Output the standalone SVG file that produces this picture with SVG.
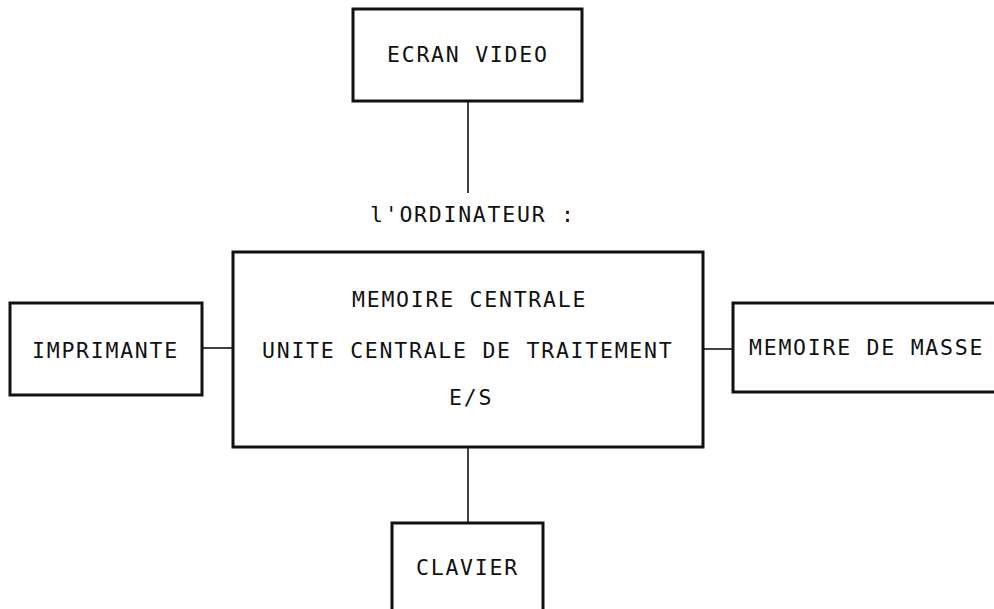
<svg xmlns="http://www.w3.org/2000/svg" width="994" height="609" viewBox="0 0 994 609">
<style>
.box{fill:#fff;stroke:#111;stroke-width:3}
.lbl{font-family:"DejaVu Sans Mono","Liberation Mono",monospace;font-size:21.5px;letter-spacing:1.75px;fill:#111}
.conn{stroke:#111;stroke-width:1.6;fill:none}
</style>
<rect width="994" height="609" fill="#fff"/>
<g id="connectors">
<line class="conn" x1="468" y1="101" x2="468" y2="193"/>
<line class="conn" x1="202" y1="348" x2="233" y2="348"/>
<line class="conn" x1="703" y1="349" x2="733" y2="349"/>
<line class="conn" x1="468" y1="447" x2="468" y2="523"/>
</g>
<g id="ecran">
<rect class="box" x="353" y="9" width="229" height="92"/>
<text class="lbl" x="387" y="62">ECRAN VIDEO</text>
</g>
<g id="titre">
<text class="lbl" x="370" y="222">l'ORDINATEUR :</text>
</g>
<g id="ordinateur">
<rect class="box" x="233" y="252" width="470" height="195"/>
<text class="lbl" x="352" y="307">MEMOIRE CENTRALE</text>
<text class="lbl" x="262" y="358">UNITE CENTRALE DE TRAITEMENT</text>
<text class="lbl" x="449" y="405">E/S</text>
</g>
<g id="imprimante">
<rect class="box" x="10" y="303" width="192" height="92"/>
<text class="lbl" x="32" y="358">IMPRIMANTE</text>
</g>
<g id="masse">
<rect class="box" x="733" y="303" width="270" height="89"/>
<text class="lbl" x="749" y="355">MEMOIRE DE MASSE</text>
</g>
<g id="clavier">
<rect class="box" x="392" y="523" width="151" height="100"/>
<text class="lbl" x="416" y="575">CLAVIER</text>
</g>
</svg>
